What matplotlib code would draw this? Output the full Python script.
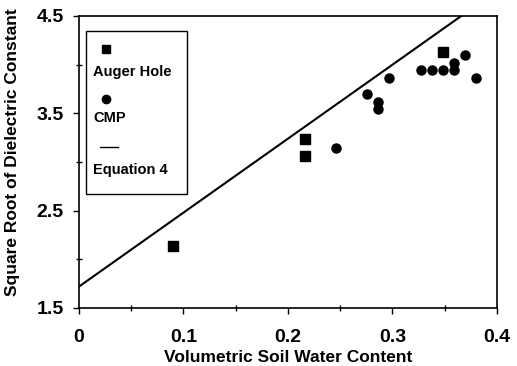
import numpy as np
from matplotlib import pyplot as plt
from matplotlib.patches import Rectangle

plt.rcParams['font.family'] = ['Liberation Sans', 'DejaVu Sans']
plt.rcParams['font.weight'] = 'bold'

# Auger Hole
auger_x = [0.09, 0.216, 0.216, 0.348]
auger_y = [2.14, 3.24, 3.06, 4.13]

# CMP
cmp_x = [0.246, 0.276, 0.286, 0.286, 0.297, 0.327, 0.3375, 0.348, 0.3585, 0.3585, 0.369, 0.380]
cmp_y = [3.14, 3.70, 3.62, 3.54, 3.86, 3.94, 3.94, 3.94, 3.94, 4.02, 4.10, 3.86]

# Equation 4
eq_intercept = 1.72
eq_slope = 7.6

fig = plt.figure(figsize=(5.17, 3.66), dpi=100)
ax = fig.add_axes([0.1528, 0.1585, 0.8085, 0.7978])

xs = np.linspace(0, 0.4, 50)
ax.plot(xs, eq_intercept + eq_slope * xs, color='black', lw=1.5)
ax.plot(auger_x, auger_y, 's', color='black', ms=6.5, mec='black')
ax.plot(cmp_x, cmp_y, 'o', color='black', ms=6.5, mec='black')

ax.set_xlim(0, 0.4)
ax.set_ylim(1.5, 4.5)
ax.set_xticks([0, 0.1, 0.2, 0.3, 0.4])
ax.set_xticklabels(['0', '0.1', '0.2', '0.3', '0.4'])
ax.set_yticks([1.5, 2.5, 3.5, 4.5])
ax.set_xticks(np.arange(0.05, 0.4, 0.1), minor=True)
ax.set_yticks([2.0, 3.0, 4.0], minor=True)
ax.tick_params(which='major', direction='out', length=4, width=1, labelsize=14)
ax.tick_params(axis='x', which='major', pad=11)
ax.tick_params(axis='y', which='major', pad=7)
ax.tick_params(which='minor', direction='inout', length=5, width=1)
for lab in ax.get_xticklabels() + ax.get_yticklabels():
    lab.set_fontweight('bold')
for s in ax.spines.values():
    s.set_linewidth(1.2)

ax.set_xlabel('Volumetric Soil Water Content', fontsize=12.5, fontweight='bold', labelpad=3)
ax.set_ylabel('Square Root of Dielectric Constant', fontsize=12.5, fontweight='bold')
ax.yaxis.set_label_coords(-0.142, 0.535)

# legend box
tr = ax.transAxes
ax.add_patch(Rectangle((0.0167, 0.39), 0.241, 0.559, transform=tr, fill=False,
                       ec='black', lw=1, zorder=5))
ax.plot([0.0646], [0.887], 's', color='black', ms=6, transform=tr)
ax.text(0.0335, 0.808, 'Auger Hole', transform=tr, fontsize=10.5, fontweight='bold', va='center')
ax.plot([0.0646], [0.716], 'o', color='black', ms=6, transform=tr)
ax.text(0.0335, 0.651, 'CMP', transform=tr, fontsize=10.5, fontweight='bold', va='center')
ax.plot([0.050, 0.093], [0.551, 0.551], color='black', lw=1, transform=tr)
ax.text(0.0335, 0.473, 'Equation 4', transform=tr, fontsize=10.5, fontweight='bold', va='center')

fig.savefig('out.png', dpi=100)
